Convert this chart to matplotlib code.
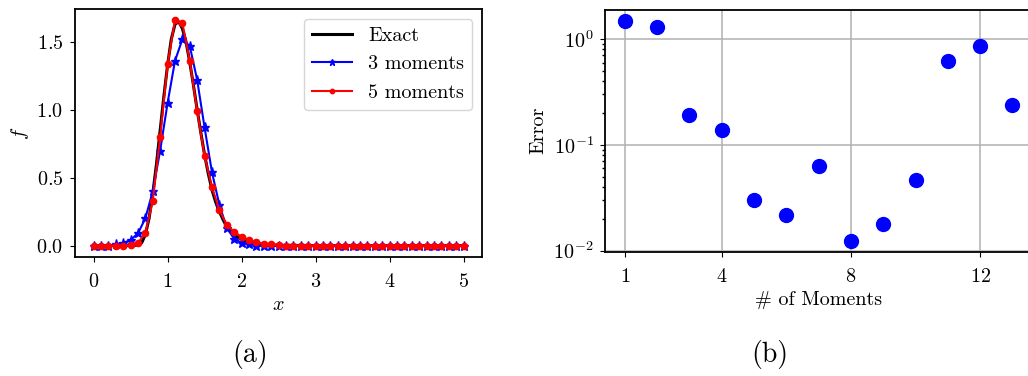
import numpy as np
import matplotlib
matplotlib.use("Agg")
import matplotlib.pyplot as plt
from matplotlib.ticker import LogLocator, NullFormatter

plt.rcParams['font.family'] = 'serif'
plt.rcParams['font.serif'] = ['cmr10']
plt.rcParams['mathtext.fontset'] = 'cm'
plt.rcParams['axes.formatter.use_mathtext'] = True
plt.rcParams['font.size'] = 14.5
plt.rcParams['xtick.major.pad'] = 8
plt.rcParams['ytick.major.pad'] = 5

# panel (a): distribution reconstruction
x_exact = [0.0, 0.5, 0.6, 0.65, 0.7, 0.75, 0.8, 0.85, 0.9, 0.95, 1.0, 1.05, 1.1, 1.15,
           1.2, 1.25, 1.3, 1.35, 1.4, 1.45, 1.5, 1.55, 1.6, 1.65, 1.7, 1.75, 1.8,
           1.85, 1.9, 1.95, 2.0, 2.1, 2.2, 2.3, 2.5, 3.0, 5.0]
f_exact = [0.0, 0.0, 0.003, 0.02, 0.08, 0.2, 0.38, 0.6, 0.85, 1.1, 1.33, 1.52, 1.63, 1.65,
           1.6, 1.5, 1.35, 1.18, 1.0, 0.83, 0.67, 0.53, 0.41, 0.32, 0.25, 0.19, 0.14,
           0.11, 0.08, 0.06, 0.045, 0.025, 0.013, 0.007, 0.002, 0.0, 0.0]

x_mom = np.round(np.arange(0, 5.01, 0.1), 2)
f_3mom_head = [0.0, 0.0, 0.0, 0.01, 0.02, 0.04, 0.09, 0.20, 0.40, 0.70, 1.05,
               1.36, 1.52, 1.47, 1.22, 0.87, 0.54, 0.30, 0.13, 0.05, 0.02, 0.01]
f_5mom_head = [0.0, 0.0, 0.0, 0.0, 0.0, 0.005, 0.02, 0.09, 0.33, 0.80, 1.335,
               1.66, 1.64, 1.36, 0.99, 0.66, 0.43, 0.26, 0.155, 0.10, 0.065, 0.04,
               0.025, 0.015, 0.01, 0.005]
f_3mom = f_3mom_head + [0.0] * (len(x_mom) - len(f_3mom_head))
f_5mom = f_5mom_head + [0.0] * (len(x_mom) - len(f_5mom_head))

# panel (b): error vs number of moments
n_moments = [1, 2, 3, 4, 5, 6, 7, 8, 9, 10, 11, 12, 13]
error = [1.49, 1.30, 0.191, 0.138, 0.0298, 0.0218, 0.0627, 0.01245, 0.0178,
         0.0462, 0.627, 0.865, 0.240]

fig = plt.figure(figsize=(10.28, 3.76), dpi=100)

ax1 = fig.add_axes([0.073, 0.317, 0.396, 0.659])
ax1.plot(x_exact, f_exact, color='black', linewidth=2.2, label='Exact')
ax1.plot(x_mom, f_3mom, color='blue', marker='*', markersize=6.5, linewidth=1.5, label='3 moments')
ax1.plot(x_mom, f_5mom, color='red', marker='o', markersize=4.5, linewidth=1.5, label='5 moments')
ax1.set_xlabel('$x$')
ax1.set_ylabel('$f$')
ax1.set_xticks([0, 1, 2, 3, 4, 5])
ax1.set_yticks([0.0, 0.5, 1.0, 1.5])
ax1.legend(loc='upper right', markerscale=0.7)
for s in ax1.spines.values():
    s.set_linewidth(1.3)

ax2 = fig.add_axes([0.589, 0.331, 0.4147, 0.643])
ax2.semilogy(n_moments, error, 'o', color='blue', markersize=10)
ax2.set_xticks([1, 4, 8, 12])
ax2.yaxis.set_minor_locator(LogLocator(base=10, subs=np.arange(2, 10)))
ax2.yaxis.set_minor_formatter(NullFormatter())
ax2.tick_params(axis='y', which='minor', length=2.5, width=1.0)
ax2.grid(True, which='major', color='#b0b0b0', linewidth=1.1)
ax2.set_axisbelow(True)
ax2.set_xlabel('# of Moments')
ax2.set_ylabel('Error')
for s in ax2.spines.values():
    s.set_linewidth(1.3)

fig.text(0.243, 0.056, '(a)', ha='center', va='center', fontsize=20)
fig.text(0.749, 0.056, '(b)', ha='center', va='center', fontsize=20)

fig.savefig('out.png', dpi=100)
